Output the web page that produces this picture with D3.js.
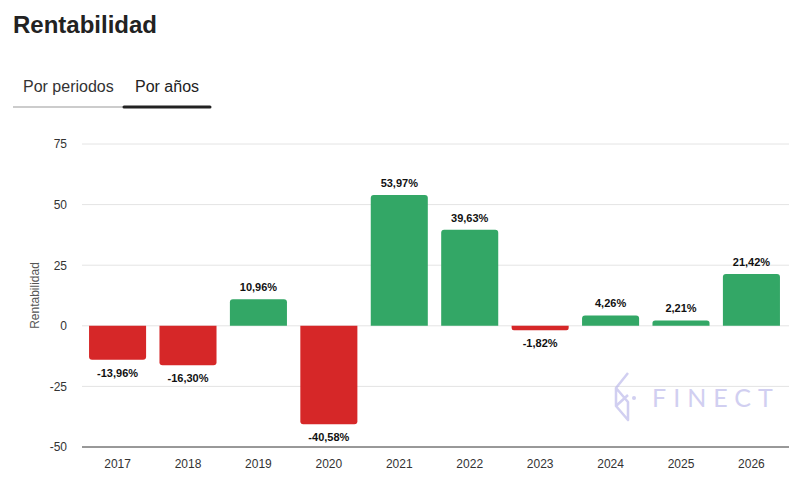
<!DOCTYPE html>
<html>
<head>
<meta charset="utf-8">
<script src="https://cdn.jsdelivr.net/npm/d3@7"></script>
<style>
  body { margin: 0; background: #fff; font-family: "Helvetica Neue", Helvetica, Arial, "Liberation Sans", sans-serif; }
</style>
</head>
<body>
<script>
// data
var years = ['2017', '2018', '2019', '2020', '2021', '2022', '2023', '2024', '2025', '2026'];
var returns = [-13.96, -16.30, 10.96, -40.58, 53.97, 39.63, -1.82, 4.26, 2.21, 21.42];
var yTicks = [-50, -25, 0, 25, 50, 75];

var width = 789, height = 489;
var margin = {top: 144, right: 2, bottom: 42, left: 82};

var svg = d3.select('body').append('svg')
  .attr('width', width)
  .attr('height', height);

// header
svg.append('text')
  .attr('x', 13).attr('y', 33)
  .attr('font-size', 24).attr('font-weight', 700)
  .attr('fill', '#222')
  .text('Rentabilidad');

svg.append('text')
  .attr('x', 23).attr('y', 92)
  .attr('font-size', 16).attr('fill', '#333')
  .text('Por periodos');
svg.append('text')
  .attr('x', 135).attr('y', 92)
  .attr('font-size', 16).attr('fill', '#222')
  .text('Por años');

svg.append('line')
  .attr('x1', 13).attr('x2', 124).attr('y1', 107).attr('y2', 107)
  .attr('stroke', '#999').attr('stroke-width', 1);
svg.append('line')
  .attr('x1', 124).attr('x2', 210).attr('y1', 107).attr('y2', 107)
  .attr('stroke', '#222').attr('stroke-width', 3)
  .attr('stroke-linecap', 'round');

// scales
var x = d3.scaleBand()
  .domain(years)
  .range([margin.left, width - margin.right])
  .paddingInner(0.19)
  .paddingOuter(0.1);

var y = d3.scaleLinear()
  .domain([-50, 75])
  .range([height - margin.bottom, margin.top]);

// grid
svg.append('g')
  .selectAll('line')
  .data(yTicks.filter(function(d) {return d !== -50;}))
  .enter()
  .append('line')
  .attr('x1', margin.left).attr('x2', width)
  .attr('y1', function(d) {return y(d);})
  .attr('y2', function(d) {return y(d);})
  .attr('stroke', '#e4e4e4');

// watermark
var wm = svg.append('g').attr('transform', 'translate(612,374)').attr('opacity', 0.6);
wm.append('path')
  .attr('d', 'M16,-1 L4,14 L4,32 L16,46 L16,28 L4,14 M4,32 L16,21')
  .attr('fill', 'none').attr('stroke', '#b3b0e8').attr('stroke-width', 2.5)
  .attr('stroke-linejoin', 'round');
wm.append('circle').attr('cx', 22).attr('cy', 24).attr('r', 2).attr('fill', '#b3b0e8');
wm.append('text')
  .attr('x', 40).attr('y', 33)
  .attr('font-size', 25).attr('letter-spacing', 7)
  .attr('fill', '#b3b0e8')
  .attr('font-family', 'Lato, sans-serif')
  .text('FINECT');

// y axis
var yAxis = svg.append('g')
  .attr('transform', 'translate(' + (margin.left - 15) + ',0)')
  .call(d3.axisLeft(y).tickValues(yTicks).tickSize(0).tickPadding(0)
    .tickFormat(function(d) {return String(d);}));
yAxis.select('.domain').remove();
yAxis.selectAll('text').attr('font-size', 12).attr('fill', '#333')
  .attr('font-family', 'Helvetica, Arial, "Liberation Sans", sans-serif');

svg.append('text')
  .attr('transform', 'translate(39,' + y(12.5) + ') rotate(-90)')
  .attr('text-anchor', 'middle')
  .attr('font-size', 12).attr('fill', '#555')
  .text('Rentabilidad');

// x axis
var xAxis = svg.append('g')
  .attr('transform', 'translate(0,' + y(-50) + ')')
  .call(d3.axisBottom(x).tickSize(0).tickPadding(12));
xAxis.select('.domain').remove();
xAxis.selectAll('text').attr('font-size', 12).attr('fill', '#333')
  .attr('font-family', 'Helvetica, Arial, "Liberation Sans", sans-serif');

svg.append('line')
  .attr('x1', margin.left).attr('x2', width)
  .attr('y1', y(-50)).attr('y2', y(-50))
  .attr('stroke', '#333').attr('stroke-width', 1);

// bars
var barData = years.map(function(d, i) {return {year: d, value: returns[i]};});

svg.append('g')
  .selectAll('path')
  .data(barData)
  .enter()
  .append('path')
  .attr('fill', function(d) {return d.value < 0 ? '#d62728' : '#33a766';})
  .attr('d', function(d) {
    var x0 = x(d.year), w = x.bandwidth();
    var y0 = y(0), y1 = y(d.value);
    var r = Math.min(3, Math.abs(y1 - y0) / 2);
    var s = d.value >= 0 ? 1 : -1;
    var p = d3.path();
    p.moveTo(x0, y0);
    p.lineTo(x0, y1 + s * r);
    p.quadraticCurveTo(x0, y1, x0 + r, y1);
    p.lineTo(x0 + w - r, y1);
    p.quadraticCurveTo(x0 + w, y1, x0 + w, y1 + s * r);
    p.lineTo(x0 + w, y0);
    p.closePath();
    return p.toString();
  });

// value labels
svg.append('g')
  .selectAll('text')
  .data(barData)
  .enter()
  .append('text')
  .attr('x', function(d) {return x(d.year) + x.bandwidth() / 2;})
  .attr('y', function(d) {return d.value >= 0 ? y(d.value) - 8 : y(d.value) + 17;})
  .attr('text-anchor', 'middle')
  .attr('font-size', 11).attr('font-weight', 700).attr('fill', '#111')
  .attr('font-family', 'Helvetica, Arial, "Liberation Sans", sans-serif')
  .text(function(d) {return d3.format('.2f')(d.value).replace('.', ',').replace('−', '-') + '%';});
</script>
</body>
</html>
